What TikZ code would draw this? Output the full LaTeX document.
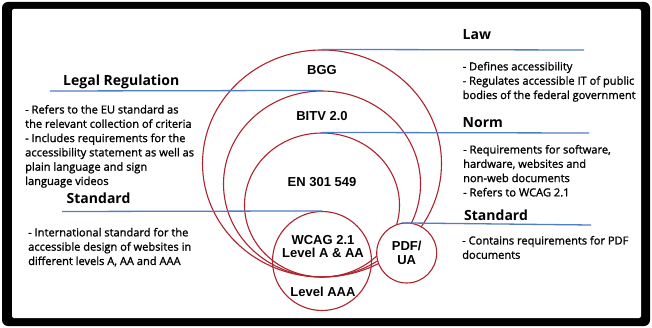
\documentclass[tikz,border=0pt]{standalone}
\usepackage{fontspec}
\setmainfont{Open Sans}
\newfontfamily\bodyfont[FakeBold=1.2]{Open Sans}
\newfontfamily\tagfont{Liberation Sans}
\usetikzlibrary{positioning}
\usetikzlibrary{shapes.geometric}

\definecolor{ringred}{RGB}{175,35,45}
\definecolor{ruleblue}{RGB}{80,125,200}

\tikzset{
  ring/.style={draw=ringred, line width=1.1pt, inner sep=0pt},
  rule/.style={draw=ruleblue, line width=1.3pt},
  head/.style={anchor=base west, inner sep=0pt, font=\bfseries\fontsize{14}{16}\selectfont},
  body/.style={anchor=base west, inner sep=0pt, align=left, font=\bodyfont\fontsize{11.1}{14.3}\selectfont},
  tag/.style={inner sep=0pt, align=center, font=\tagfont\bfseries\fontsize{13}{13.5}\selectfont}
}

\begin{document}
\begin{tikzpicture}[x=1pt,y=-1pt]
 	% Frame of the slide
 	\useasboundingbox (0,0) rectangle (652,328);
 	\fill[black, rounded corners=6pt] (2,2) rectangle (650,326);
 	\fill[white, rounded corners=2pt] (12,9) rectangle (641,318);

 	% Nested rings, all touching at the bottom
 	\foreach \name/\cy/\wd/\ht in {bgg/163.5/239/227, bitv/184/197/186, en/205/155/144}
 		{\node[ring, ellipse, minimum width=\wd pt, minimum height=\ht pt] (\name) at (322,\cy) {};}
 	\node[ring, circle, minimum size=99pt] (wcag) at (322,261) {};
 	\node[ring, circle, fill=white, minimum size=60pt] (pdf) at (406.7,253) {};

 	% Ring labels
 	\node[tag] (bgglabel) at (322,70) {BGG};
 	\node[tag] (bitvlabel) at (322,116) {BITV 2.0};
 	\node[tag] (enlabel) at (322,182) {EN 301 549};
 	\node[tag] (wcaglabel) at (323,246.5) {WCAG 2.1\\Level A \& AA};
 	\node[tag] (aaalabel) at (323,292) {Level AAA};
 	\node[tag] (pdflabel) at (pdf) {PDF/\\UA};

 	% Free ends of the rules
 	\coordinate (lawend) at (584,50);
 	\coordinate (legalend) at (50,91);
 	\coordinate (normend) at (589,133);
 	\coordinate (stdleftend) at (62,211.5);
 	\coordinate (stdrightend) at (591,225);

 	\draw[rule] (bgg.north) -- (lawend);
 	\draw[rule] (legalend) -- (bitv.north);
 	\draw[rule] (en.north) -- (normend);
 	\draw[rule] (stdleftend) -- (wcag.north);
 	\draw[rule] (pdf.100) -- (stdrightend);

 	% Right column (text placed by the baseline of its last line)
 	\node[head] (lawhead) at (462.5,40) {Law};
 	\node[body] (lawtext) at (462.5,99) {- Defines accessibility\\- Regulates accessible IT of public\\bodies of the federal government};
 	\node[head] (normhead) at (462.5,128) {Norm};
 	\node[body] (normtext) at (463,196.4) {- Requirements for software,\\hardware, websites and\\non-web documents\\- Refers to WCAG 2.1};
 	\node[head] (stdrighthead) at (464,221) {Standard};
 	\node[body] (stdrighttext) at (462,258.8) {- Contains requirements for PDF\\documents};

 	% Left column
 	\node[head] (legalhead) at (63,85.5) {Legal Regulation};
 	\node[body] (legaltext) at (25,185) {- Refers to the EU standard as\\the relevant collection of criteria\\- Includes requirements for the\\accessibility statement as well as\\plain language and sign\\language videos};
 	\node[head] (stdlefthead) at (66.5,204) {Standard};
 	\node[body] (stdlefttext) at (28,265) {- International standard for the\\accessible design of websites in\\different levels A, AA and AAA};
\end{tikzpicture}
\end{document}
